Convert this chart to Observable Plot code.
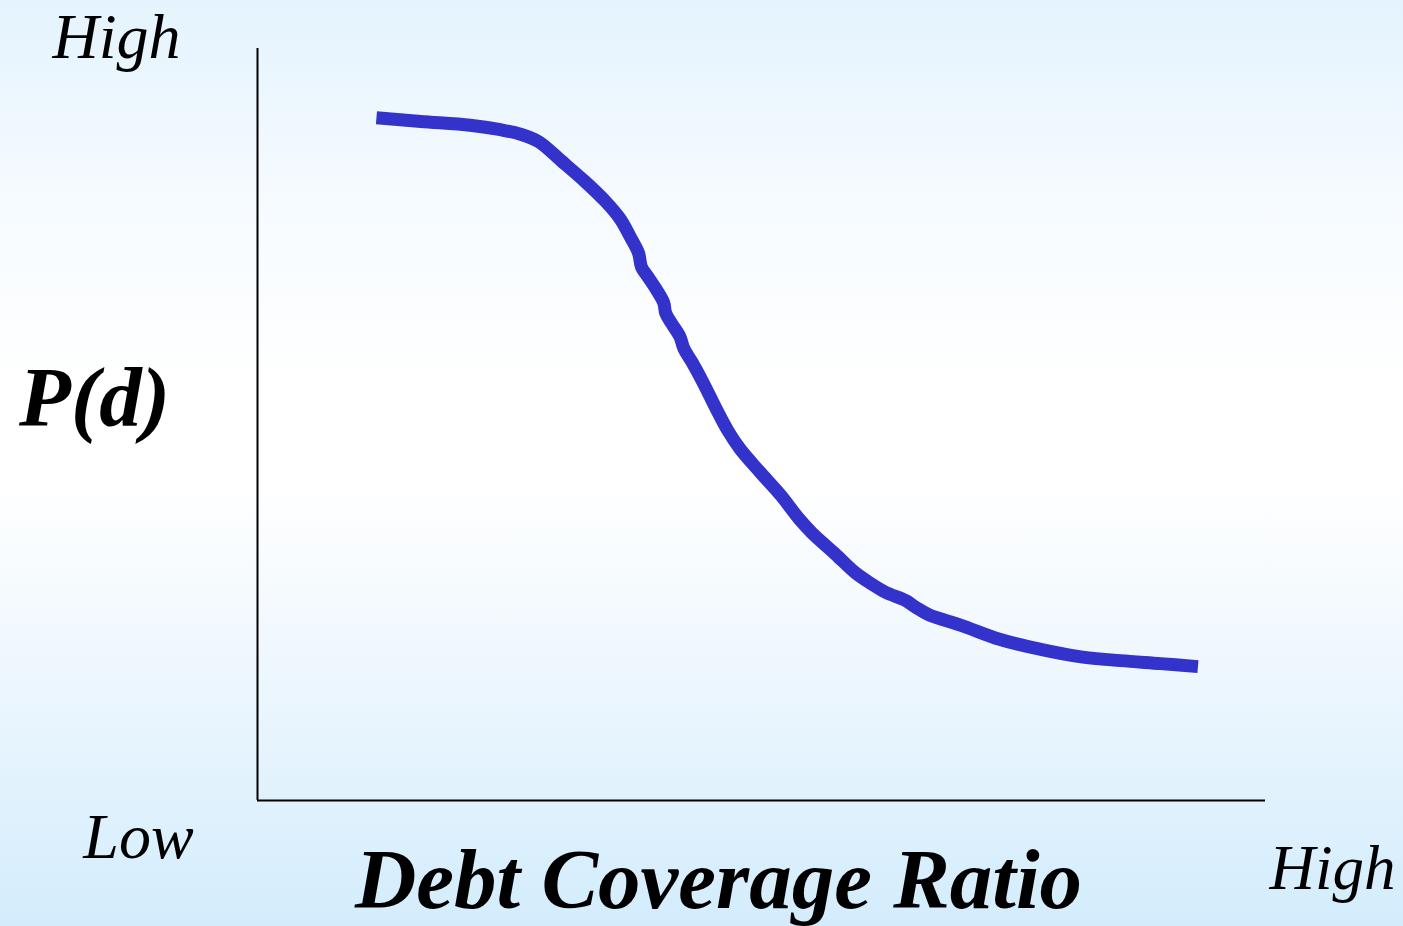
<!DOCTYPE html>
<html>
<head>
<meta charset="utf-8">
<script src="https://cdn.jsdelivr.net/npm/d3@7"></script>
<script src="https://cdn.jsdelivr.net/npm/@observablehq/plot@0.6"></script>
<style>
  html, body { margin: 0; padding: 0; }
  body {
    width: 1403px; height: 926px; overflow: hidden;
    background: linear-gradient(to bottom, #e4f3fd 0%, #f6fbff 22%, #ffffff 42%, #ffffff 52%, #f0f8fe 70%, #d3ecfc 100%);
  }
  #chart svg { display: block; }
</style>
</head>
<body>
<div id="chart"></div>
<script>
// Debt coverage ratio (normalized 0..1, low -> high)
const dcr = [0.118, 0.162, 0.211, 0.241, 0.261, 0.279, 0.301, 0.325, 0.345, 0.360, 0.370, 0.378, 0.381, 0.387, 0.395, 0.403, 0.405, 0.411, 0.419, 0.423, 0.431, 0.442, 0.455, 0.467, 0.479, 0.499, 0.519, 0.537, 0.550, 0.573, 0.593, 0.608, 0.623, 0.643, 0.653, 0.666, 0.698, 0.737, 0.777, 0.817, 0.856, 0.896, 0.933];
// Probability of default P(d) (normalized 0..1, low -> high)
const pd  = [0.908, 0.903, 0.898, 0.892, 0.886, 0.876, 0.851, 0.823, 0.797, 0.773, 0.749, 0.728, 0.709, 0.697, 0.681, 0.662, 0.648, 0.634, 0.617, 0.601, 0.583, 0.556, 0.521, 0.491, 0.467, 0.436, 0.406, 0.375, 0.356, 0.328, 0.303, 0.289, 0.277, 0.266, 0.257, 0.247, 0.233, 0.214, 0.201, 0.191, 0.186, 0.182, 0.178];

const yLabel = "P(d)";
const xLabel = "Debt Coverage Ratio";
const lowLabel = "Low";
const highLabel = "High";

const data = dcr.map((x, i) => ({x, y: pd[i]}));

const serif = "'Liberation Serif', 'Times New Roman', serif";

const plot = Plot.plot({
  width: 1403,
  height: 926,
  marginLeft: 257,
  marginRight: 138,
  marginTop: 48,
  marginBottom: 126,
  style: {background: "transparent", overflow: "visible"},
  x: {domain: [0, 1], axis: null},
  y: {domain: [0, 1], axis: null},
  marks: [
    Plot.ruleX([0], {stroke: "black", strokeWidth: 2}),
    Plot.ruleY([0], {stroke: "black", strokeWidth: 2}),
    Plot.line(data, {x: "x", y: "y", stroke: "#3333cc", strokeWidth: 13, curve: "catmull-rom", strokeLinecap: "butt", strokeLinejoin: "round"}),
    // Y-axis end labels
    Plot.text([highLabel], {frameAnchor: "top-left", text: d => d, dx: -141, dy: 9, lineAnchor: "bottom", textAnchor: "middle", fontFamily: serif, fontStyle: "italic", fontSize: 64, fill: "black"}),
    Plot.text([yLabel], {frameAnchor: "left", text: d => d, dx: -163, dy: 1, lineAnchor: "bottom", textAnchor: "middle", fontFamily: serif, fontStyle: "italic", fontWeight: "bold", fontSize: 85, fill: "black"}),
    // X-axis labels
    Plot.text([lowLabel], {frameAnchor: "bottom-left", text: d => d, dx: -119, dy: 57, lineAnchor: "bottom", textAnchor: "middle", fontFamily: serif, fontStyle: "italic", fontSize: 64, fill: "black"}),
    Plot.text([xLabel], {frameAnchor: "bottom", text: d => d, dx: -43, dy: 107, lineAnchor: "bottom", textAnchor: "middle", fontFamily: serif, fontStyle: "italic", fontWeight: "bold", fontSize: 85, fill: "black"}),
    Plot.text([highLabel], {frameAnchor: "bottom-right", text: d => d, dx: 67, dy: 88, lineAnchor: "bottom", textAnchor: "middle", fontFamily: serif, fontStyle: "italic", fontSize: 63, fill: "black"})
  ]
});

document.getElementById("chart").appendChild(plot);
</script>
</body>
</html>
